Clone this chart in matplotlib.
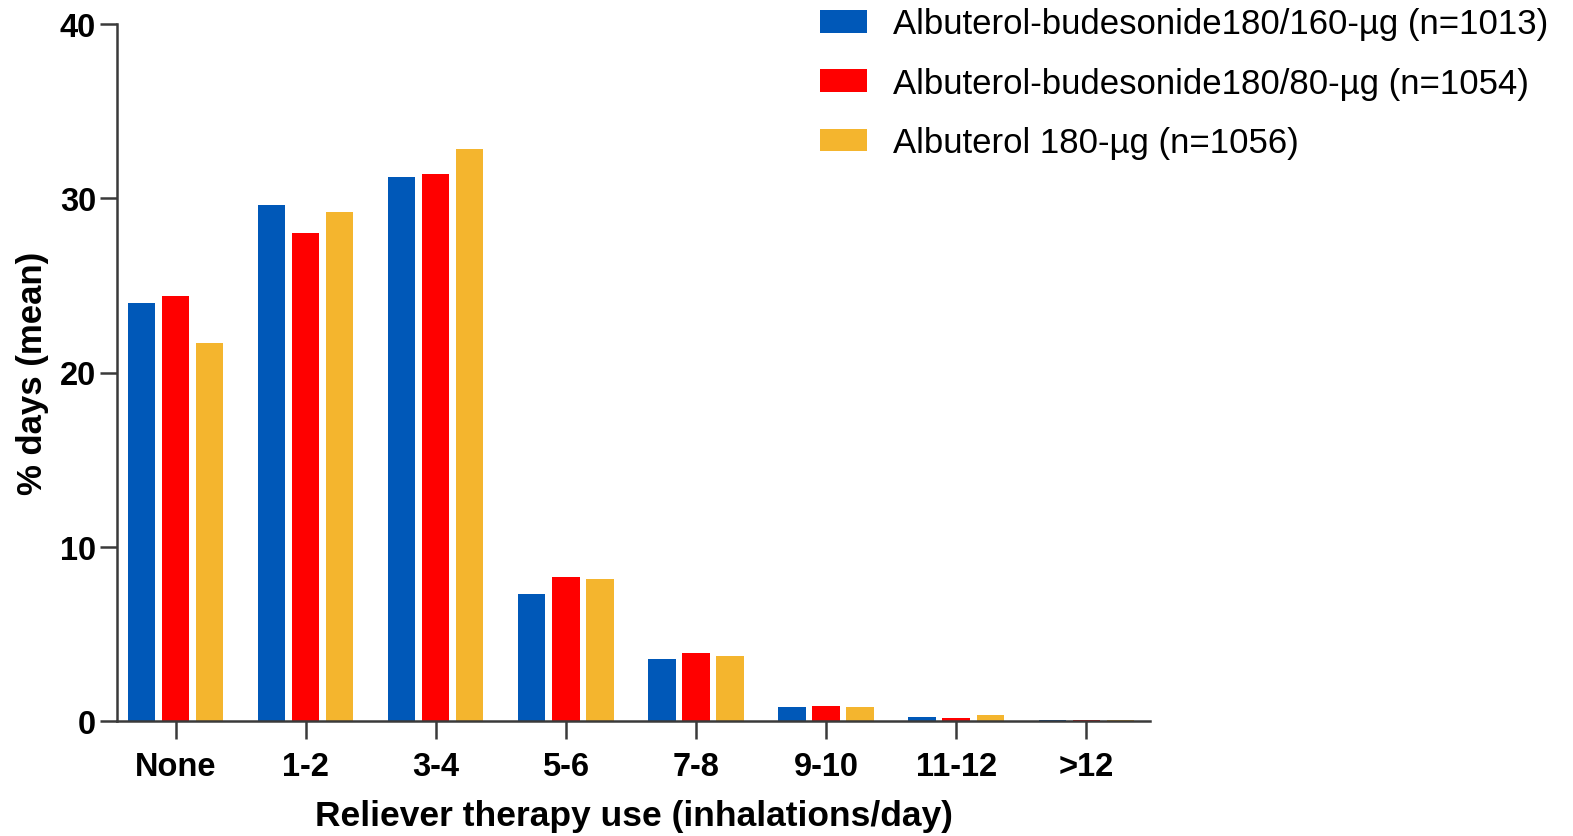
import matplotlib
matplotlib.use("Agg")
import matplotlib.pyplot as plt
import numpy as np

plt.rcParams['font.family'] = ['Liberation Sans', 'DejaVu Sans']

categories = ["None", "1-2", "3-4", "5-6", "7-8", "9-10", "11-12", ">12"]
series_names = [
    "Albuterol-budesonide180/160-µg (n=1013)",
    "Albuterol-budesonide180/80-µg (n=1054)",
    "Albuterol 180-µg (n=1056)",
]
bud_160 = [24.0, 29.6, 31.2, 7.3, 3.55, 0.82, 0.23, 0.08]
bud_80 = [24.4, 28.0, 31.4, 8.26, 3.93, 0.88, 0.17, 0.04]
alb_180 = [21.7, 29.2, 32.8, 8.15, 3.74, 0.82, 0.33, 0.05]
colors = ["#0058B8", "#FF0000", "#F4B52E"]

fig = plt.figure(figsize=(15.73, 8.37), dpi=100)
ax = fig.add_axes([117 / 1573, 1 - 722 / 837, (1150 - 117) / 1573, (722 - 25) / 837])

x = np.arange(len(categories))
width = 0.21
step = 0.262
handles = []
for i, (vals, col) in enumerate(zip([bud_160, bud_80, alb_180], colors)):
    h = ax.bar(x + (i - 1) * step, vals, width=width, color=col, zorder=2)
    handles.append(h)

ax.set_xlim(-0.45, 7.49)
ax.set_ylim(0, 40)
ax.set_yticks([0, 10, 20, 30, 40])
ax.set_xticks(x)
ax.set_xticklabels(categories)

for side in ["top", "right"]:
    ax.spines[side].set_visible(False)
for side in ["left", "bottom"]:
    ax.spines[side].set_color("#3a3a3a")
    ax.spines[side].set_linewidth(1.8)

ax.tick_params(axis="y", direction="out", length=12, width=1.8, color="#3a3a3a",
               labelsize=23.5, pad=3)
ax.tick_params(axis="x", direction="out", length=13, width=1.8, color="#3a3a3a",
               labelsize=23.5, pad=8.5)
for lab in ax.get_xticklabels() + ax.get_yticklabels():
    lab.set_fontweight("bold")

ax.set_xlabel("Reliever therapy use (inhalations/day)", fontsize=25.5, fontweight="bold", labelpad=12)
ax.set_ylabel("% days (mean)", fontsize=25, fontweight="bold", labelpad=8)

fig.legend(handles, series_names, loc="upper left",
           bbox_to_anchor=(820 / 1573, 0.99), frameon=False, fontsize=25,
           handlelength=1.35, handleheight=0.63, handletextpad=0.75,
           labelspacing=0.76, borderaxespad=0.0, borderpad=0.0)

fig.savefig("out.png", dpi=100)
